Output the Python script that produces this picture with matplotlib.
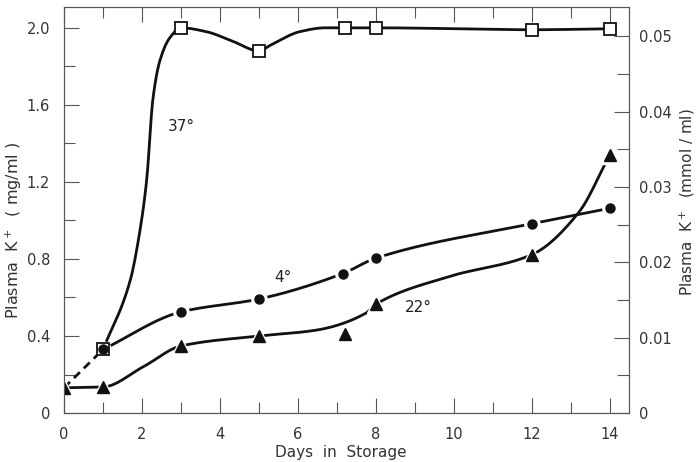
import numpy as np
import matplotlib.pyplot as plt
from matplotlib.ticker import MultipleLocator, FixedLocator

plt.rcParams['font.family'] = ['DejaVu Sans']
plt.rcParams['mathtext.fontset'] = 'dejavusans'

# measured points (days in storage, plasma K+ in mg/ml)
days37 = [1, 3, 5, 7.2, 8, 12, 14]
k37 = [0.33, 2.0, 1.88, 2.0, 2.0, 1.99, 1.995]
days4 = [1, 3, 5, 7.15, 8, 12, 14]
k4 = [0.33, 0.525, 0.592, 0.724, 0.804, 0.983, 1.063]
days22 = [0, 1, 3, 5, 7.2, 8, 12, 14]
k22 = [0.131, 0.135, 0.348, 0.40, 0.409, 0.565, 0.822, 1.34]

# hand drawn fitted curves
curve37_x = [1, 1.7, 1.95, 2.12, 2.28, 2.46, 2.72, 3, 3.65, 4.33, 5, 5.3, 6.05, 6.7, 7.2, 8, 12, 14]
curve37_y = [0.33, 0.69, 0.95, 1.21, 1.63, 1.83, 1.95, 2.0, 1.98, 1.93, 1.88, 1.91, 1.98, 2.0, 2.0, 2.0, 1.99, 1.995]
curve4_x = [1, 3, 5, 7.15, 8, 12, 14]
curve4_y = [0.33, 0.525, 0.592, 0.724, 0.804, 0.983, 1.063]
curve22_x = [0, 1, 2.03, 3, 5, 6.46, 7.74, 8, 9.87, 12, 13.2, 14]
curve22_y = [0.131, 0.135, 0.24, 0.348, 0.40, 0.43, 0.518, 0.565, 0.708, 0.822, 1.04, 1.34]
dash_x = [0, 1]
dash_y = [0.131, 0.33]

MG_PER_MMOL = 39.1


def pchip(x, y, n=400):
    """monotone cubic through the knots, just for drawing a smooth line"""
    x = np.asarray(x, float)
    y = np.asarray(y, float)
    h = np.diff(x)
    d = np.diff(y) / h
    m = np.zeros_like(y)
    m[0], m[-1] = d[0], d[-1]
    for k in range(1, len(x) - 1):
        if d[k - 1] * d[k] > 0:
            w1 = 2 * h[k] + h[k - 1]
            w2 = h[k] + 2 * h[k - 1]
            m[k] = (w1 + w2) / (w1 / d[k - 1] + w2 / d[k])
    xs = np.linspace(x[0], x[-1], n)
    i = np.clip(np.searchsorted(x, xs) - 1, 0, len(x) - 2)
    t = (xs - x[i]) / h[i]
    h00 = 2 * t**3 - 3 * t**2 + 1
    h10 = t**3 - 2 * t**2 + t
    h01 = -2 * t**3 + 3 * t**2
    h11 = t**3 - t**2
    ys = h00 * y[i] + h10 * h[i] * m[i] + h01 * y[i + 1] + h11 * h[i] * m[i + 1]
    return xs, ys


fig = plt.figure(figsize=(6.96, 4.62), dpi=100)
ax = fig.add_axes([0.092, 0.106, 0.812, 0.878])

ink = '#111111'
grey = '#555555'
txt = '#333333'

# curves
for cx, cy in [(curve37_x, curve37_y), (curve4_x, curve4_y), (curve22_x, curve22_y)]:
    sx, sy = pchip(cx, cy)
    ax.plot(sx, sy, color=ink, lw=2.0, zorder=2, solid_capstyle='round')
ax.plot(dash_x, dash_y, color=ink, lw=2.0, ls=(0, (3, 2)), zorder=2)

# white halos so lines stop short of the markers
ax.plot(days4, k4, 'o', ms=11, color='white', zorder=3)
ax.plot(days22, k22, '^', ms=12.5, color='white', zorder=3)

# markers
ax.plot(days37, k37, 's', ms=8.5, mfc='white', mec=ink, mew=1.3, zorder=4)
ax.plot(days4, k4, 'o', ms=6.5, color=ink, zorder=5)
ax.plot(days22, k22, '^', ms=8, color=ink, zorder=5)

ax.text(3.0, 1.49, '37°', fontsize=11, color='#222222', ha='center', va='center')
ax.text(5.62, 0.706, '4°', fontsize=11, color='#222222', ha='center', va='center')
ax.text(9.1, 0.55, '22°', fontsize=11, color='#222222', ha='center', va='center')

ax.set_xlim(0, 14.5)
ax.set_ylim(0, 2.106)

ax.xaxis.set_major_locator(MultipleLocator(2))
ax.xaxis.set_minor_locator(MultipleLocator(1))
ax.yaxis.set_major_locator(FixedLocator([0, 0.4, 0.8, 1.2, 1.6, 2.0]))
ax.yaxis.set_minor_locator(MultipleLocator(0.2))
ax.set_yticklabels(['0', '0.4', '0.8', '1.2', '1.6', '2.0'])

ax.tick_params(which='both', direction='in', top=True, right=False, color=grey, width=0.8,
               labelsize=10.5, labelcolor=txt)
ax.tick_params(which='major', length=11, pad=10)
ax.tick_params(which='minor', length=8)

for s in ax.spines.values():
    s.set_color(grey)
    s.set_linewidth(0.8)

ax2 = ax.twinx()
ax2.set_ylim(0, 2.106 / MG_PER_MMOL)
ax2.yaxis.set_major_locator(FixedLocator([0, 0.01, 0.02, 0.03, 0.04, 0.05]))
ax2.yaxis.set_minor_locator(MultipleLocator(0.005))
ax2.set_yticklabels(['0', '0.01', '0.02', '0.03', '0.04', '0.05'])
ax2.tick_params(which='both', direction='in', color=grey, width=0.8, labelsize=10.5,
                labelcolor=txt)
ax2.tick_params(which='major', length=11, pad=7)
ax2.tick_params(which='minor', length=9)
for s in ax2.spines.values():
    s.set_color(grey)
    s.set_linewidth(0.8)

ax.set_xlabel('Days  in  Storage', fontsize=11, color=txt)
ax.xaxis.set_label_coords(0.49, -0.08)
ax.set_ylabel('Plasma  K$^+$  ( mg/ml )', fontsize=11.5, color=txt)
ax.yaxis.set_label_coords(-0.07, 0.45)
ax2.set_ylabel('Plasma  K$^+$  (mmol / ml)', fontsize=11, color=txt)
ax2.yaxis.set_label_coords(1.086, 0.52)

fig.savefig('out.png', dpi=100)
